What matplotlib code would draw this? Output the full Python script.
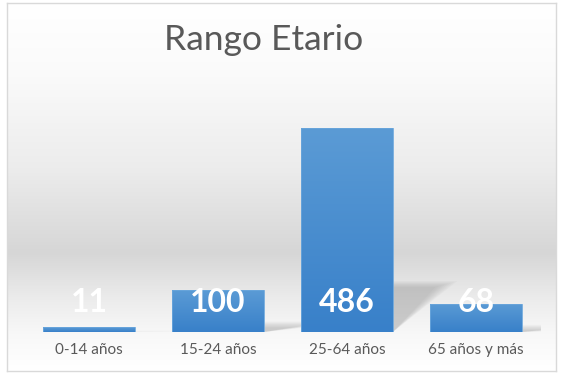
import numpy as np
import matplotlib.pyplot as plt
from matplotlib.colors import LinearSegmentedColormap
from matplotlib.patches import Polygon, Rectangle

# Datos
categorias = ['0-14 años', '15-24 años', '25-64 años', '65 años y más']
valores = [11, 100, 486, 68]

plt.rcParams['font.family'] = ['Lato', 'DejaVu Sans']

fig = plt.figure(figsize=(5.62, 3.80), dpi=100)
fig.patch.set_facecolor('white')

# Fondo con degradado gris del área del gráfico
fondo = fig.add_axes([7 / 562, 9 / 380, 549 / 562, 368 / 380])
cmap_fondo = LinearSegmentedColormap.from_list('fondo', [
    (0.0, '#ffffff'), (0.2, '#fafafa'), (0.45, '#ececec'),
    (0.68, '#d6d6d6'), (0.8, '#ebebeb'), (0.9, '#f8f8f8'), (1.0, '#ffffff')])
grad = np.linspace(0, 1, 256).reshape(-1, 1)
fondo.imshow(grad, aspect='auto', cmap=cmap_fondo, extent=[0, 1, 1, 0])
fondo.set_xlim(0, 1)
fondo.set_ylim(1, 0)
fondo.set_xticks([])
fondo.set_yticks([])
for s in fondo.spines.values():
    s.set_color('#d9d9d9')
    s.set_linewidth(1)

fig.text(264 / 562, 1 - 40 / 380, 'Rango Etario', ha='center', va='center',
         fontsize=25.5, color='#595959')

ax = fig.add_axes([24.5 / 562, 48 / 380, 516 / 562, 222 / 380])
ax.patch.set_alpha(0)
ax.set_xlim(-0.5, 3.5)
ax.set_ylim(0, 530)

x = np.arange(len(valores))
ancho = 0.71

# Sombra en perspectiva detrás de cada barra
for xi, v in zip(x, valores):
    for i in range(8):
        enc = i * 0.012
        pts = [(xi - ancho / 2 + enc, 0), (xi + ancho / 2, 0),
               (xi + ancho / 2 + 0.5 - enc * 2, v * 0.25 - i * 2),
               (xi - ancho / 2 + 0.5, v * 0.25 - i * 2)]
        ax.add_patch(Polygon(pts, closed=True, facecolor='#707070',
                             edgecolor='none', alpha=0.045, zorder=1))

barras = ax.bar(x, valores, width=ancho, color='#4a8fd3', zorder=2)

# Degradado azul dentro de cada barra
cmap_barra = LinearSegmentedColormap.from_list('barra', ['#5b9bd5', '#3880c9'])
for b in barras:
    x0, y0 = b.get_x(), b.get_y()
    w, h = b.get_width(), b.get_height()
    b.set_facecolor('none')
    img = ax.imshow(grad, aspect='auto', cmap=cmap_barra,
                    extent=[x0, x0 + w, y0, y0 + h], origin='upper', zorder=2)
    img.set_clip_path(Rectangle((x0, y0), w, h, transform=ax.transData))
    ax.add_patch(Rectangle((x0, y0), w, h, facecolor='none',
                           edgecolor='#6aa6dc', linewidth=0.6, zorder=3))

for xi, v in zip(x, valores):
    ax.annotate(str(v), (xi, 0), xytext=(0, 21.5), textcoords='offset points',
                ha='center', va='center', fontsize=23, fontweight='bold',
                color='white', zorder=4)

ax.set_xticks(x)
ax.set_xticklabels(categorias, fontsize=11, color='#595959')
ax.tick_params(axis='x', length=0, pad=8)
ax.set_yticks([])
for s in ax.spines.values():
    s.set_visible(False)

plt.savefig('out.png', dpi=100)
